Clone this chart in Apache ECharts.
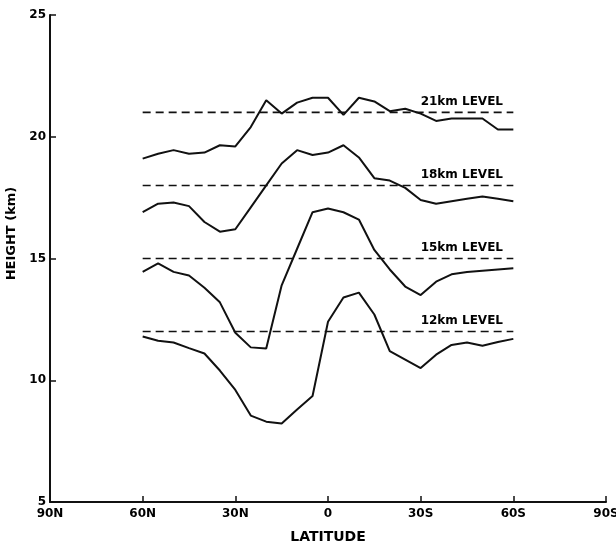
<!DOCTYPE html>
<html>
<head>
<meta charset="utf-8">
<script src="https://cdn.jsdelivr.net/npm/echarts@6/dist/echarts.min.js"></script>
<style>
  html, body { margin: 0; padding: 0; background: #fff; }
  #chart { width: 616px; height: 543px; }
</style>
</head>
<body>
<div id="chart"></div>
<script>
// latitude in degrees, north positive
const lat = [60, 55, 50, 45, 40, 35, 30, 25, 20, 15, 10, 5, 0, -5, -10, -15, -20, -25, -30, -35, -40, -45, -50, -55, -60];

const h21 = [19.1, 19.3, 19.45, 19.3, 19.35, 19.65, 19.6, 20.4, 21.5, 20.95, 21.4, 21.6, 21.6, 20.9, 21.6, 21.45, 21.05, 21.15, 20.95, 20.65, 20.75, 20.75, 20.75, 20.3, 20.3];
const h18 = [16.9, 17.25, 17.3, 17.15, 16.5, 16.1, 16.2, 17.1, 18.0, 18.9, 19.45, 19.25, 19.35, 19.65, 19.15, 18.3, 18.2, 17.9, 17.4, 17.25, 17.35, 17.45, 17.55, 17.45, 17.35];
const h15 = [14.45, 14.8, 14.45, 14.3, 13.8, 13.2, 11.95, 11.35, 11.3, 13.9, 15.4, 16.9, 17.05, 16.9, 16.6, 15.35, 14.55, 13.85, 13.5, 14.05, 14.35, 14.45, 14.5, 14.55, 14.6];
const h12 = [11.8, 11.62, 11.55, 11.32, 11.1, 10.4, 9.6, 8.55, 8.3, 8.22, 8.8, 9.35, 12.4, 13.4, 13.6, 12.7, 11.2, 10.85, 10.5, 11.05, 11.45, 11.55, 11.42, 11.57, 11.7];

const levels = [21, 18, 15, 12];
const levelNames = ['21km LEVEL', '18km LEVEL', '15km LEVEL', '12km LEVEL'];
const levelSpan = [60, -60];
const labelLat = -30;

const curves = [h21, h18, h15, h12];
const font = '"DejaVu Sans", sans-serif';

const chart = echarts.init(document.getElementById('chart'));

const series = [];
curves.forEach(h => {
  series.push({
    type: 'line',
    data: lat.map((l, i) => [l, h[i]]),
    symbol: 'none',
    silent: true,
    lineStyle: { color: '#111', width: 2 }
  });
});
levels.forEach(lev => {
  series.push({
    type: 'line',
    data: levelSpan.map(l => [l, lev]),
    symbol: 'none',
    silent: true,
    lineStyle: { color: '#111', width: 1.6, type: [8, 5] }
  });
});
series.push({
  type: 'scatter',
  symbolSize: 0,
  silent: true,
  itemStyle: { opacity: 1 },
  data: levels.map((lev, i) => ({ value: [labelLat, lev], name: levelNames[i] })),
  label: {
    show: true,
    formatter: p => p.name,
    position: [0, -5],
    align: 'left',
    verticalAlign: 'bottom',
    color: '#000',
    textBorderWidth: 0,
    fontFamily: font,
    fontWeight: 'bold',
    fontSize: 12
  }
});

chart.setOption({
  animation: false,
  backgroundColor: '#fff',
  grid: { left: 50, right: 10, top: 15, bottom: 41, outerBoundsMode: 'none' },
  xAxis: {
    type: 'value',
    min: -90,
    max: 90,
    interval: 30,
    inverse: true,
    name: 'LATITUDE',
    nameLocation: 'middle',
    nameGap: 28,
    nameTextStyle: { color: '#000', fontFamily: font, fontWeight: 'bold', fontSize: 14 },
    axisLine: { onZero: false, lineStyle: { color: '#111', width: 2 } },
    axisTick: { inside: true, length: 6, lineStyle: { color: '#111', width: 1.5 } },
    axisLabel: {
      color: '#000', fontFamily: font, fontWeight: 'bold', fontSize: 12, margin: 6,
      formatter: v => v > 0 ? v + 'N' : (v < 0 ? (-v) + 'S' : '0')
    },
    splitLine: { show: false }
  },
  yAxis: {
    type: 'value',
    min: 5,
    max: 25,
    interval: 5,
    name: 'HEIGHT (km)',
    nameLocation: 'middle',
    nameGap: 27,
    nameTextStyle: { color: '#000', fontFamily: font, fontWeight: 'bold', fontSize: 13, padding: [0, 0, 0, 50] },
    axisLine: { onZero: false, lineStyle: { color: '#111', width: 2 } },
    axisTick: { inside: true, length: 6, lineStyle: { color: '#111', width: 1.5 } },
    axisLabel: { color: '#000', fontFamily: font, fontWeight: 'bold', fontSize: 12, margin: 4 },
    splitLine: { show: false }
  },
  series: series
});
</script>
</body>
</html>
